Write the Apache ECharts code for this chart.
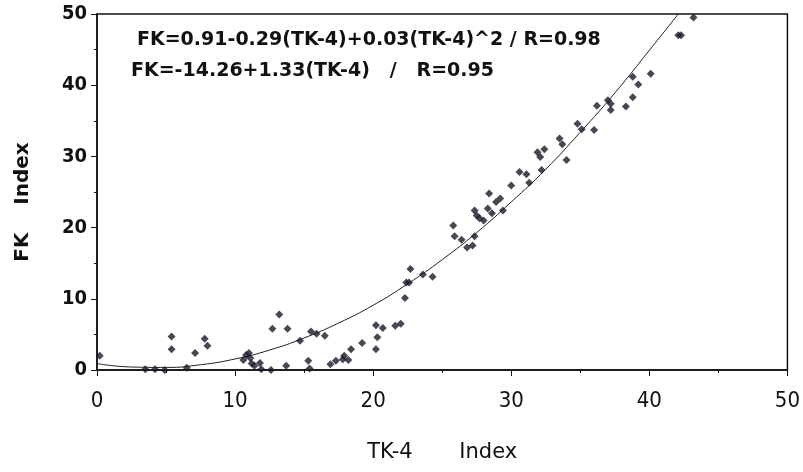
<!DOCTYPE html>
<html>
<head>
<meta charset="utf-8">
<script src="https://cdn.jsdelivr.net/npm/echarts@6/dist/echarts.min.js"></script>
<style>
  html, body { margin: 0; padding: 0; background: #fff; }
  #main { width: 803px; height: 472px; }
</style>
</head>
<body>
<div id="main"></div>
<script>
// measured points (TK-4 index, FK index)
const points = [
  [0.2, 2.0], [3.5, 0.1], [4.2, 0.1], [4.9, 0.0], [5.4, 4.7], [5.4, 2.9], [6.5, 0.3],
  [7.1, 2.4], [7.8, 4.4], [8.0, 3.4],
  [10.6, 1.4], [10.8, 2.1], [11.0, 2.4], [11.1, 1.7], [11.2, 0.9], [11.4, 0.6],
  [11.8, 1.0], [11.9, 0.1], [12.6, 0.0], [12.7, 5.8], [13.2, 7.8], [13.8, 5.8],
  [13.7, 0.6], [14.7, 4.1], [15.3, 1.3], [15.4, 0.2], [15.5, 5.4], [15.9, 5.1],
  [16.5, 4.8], [16.9, 0.8], [17.3, 1.3], [17.8, 1.5], [17.9, 2.0], [18.2, 1.4],
  [18.4, 2.9], [19.2, 3.8], [20.2, 2.9], [20.3, 4.6], [20.2, 6.3], [20.7, 5.9],
  [21.6, 6.2], [22.0, 6.5], [22.3, 10.1], [22.4, 12.3], [22.6, 12.3], [22.7, 14.2],
  [23.6, 13.4], [24.3, 13.1],
  [25.8, 20.3], [25.9, 18.8], [26.4, 18.3], [26.8, 17.2], [27.2, 17.5], [27.35, 18.8],
  [27.35, 22.4], [27.5, 21.7], [27.7, 21.3], [28.0, 21.0], [28.3, 22.7], [28.4, 24.8],
  [28.6, 22.0], [28.9, 23.6], [29.2, 24.1], [29.4, 22.4], [30.0, 25.9], [30.6, 27.8],
  [31.1, 27.5], [31.3, 26.3], [31.9, 30.6], [32.1, 29.9], [32.4, 31.0], [32.2, 28.1],
  [33.5, 32.5], [33.7, 31.7], [34.0, 29.5], [34.8, 34.6], [35.1, 33.8], [36.0, 33.7],
  [36.2, 37.1], [37.0, 37.9], [37.2, 37.4], [37.2, 36.5], [38.3, 37.0], [38.8, 38.3],
  [38.8, 41.2], [39.2, 40.1], [40.1, 41.6], [42.1, 47.0], [42.3, 47.0], [43.2, 49.5]
];

// fitted curve
const curveX = [0, 2.5, 5, 7.5, 10, 12.5, 15, 17.5, 20, 22.5, 25, 27.5, 30, 32.5, 35, 37.5, 40, 42.1];
const curveY = [0.9, 0.42, 0.36, 0.74, 1.55, 2.8, 4.5, 6.6, 9.1, 12.1, 15.5, 19.3, 23.6, 28.2, 33.4, 38.9, 44.9, 50];

const eqQuad = 'FK=0.91-0.29(TK-4)+0.03(TK-4)^2 / R=0.98';
const eqLin = 'FK=-14.26+1.33(TK-4)   /   R=0.95';

const cond = '"DejaVu Sans Condensed", "DejaVu Sans", sans-serif';
const wide = '"DejaVu Sans", sans-serif';

let myChart = echarts.init(document.getElementById('main'));

let option = {
  backgroundColor: '#fff',
  animation: false,
  grid: {
    left: 97, right: 15, top: 14, bottom: 102,
    show: true, borderColor: '#111', borderWidth: 1.5, backgroundColor: 'transparent'
  },
  xAxis: {
    type: 'value', min: 0, max: 50, interval: 10,
    name: 'TK-4       Index', nameLocation: 'middle', nameGap: 72,
    nameTextStyle: { fontFamily: wide, fontSize: 21, color: '#111' },
    axisLine: { lineStyle: { color: '#111', width: 1.5 } },
    axisTick: { length: 6, lineStyle: { color: '#111' } },
    minorTick: { show: true, splitNumber: 2, length: 3, lineStyle: { color: '#111' } },
    axisLabel: { fontFamily: cond, fontSize: 22, color: '#111', margin: 20 },
    splitLine: { show: false }
  },
  yAxis: {
    type: 'value', min: 0, max: 50, interval: 10,
    name: 'FK    Index', nameLocation: 'middle', nameGap: 64, nameRotate: 90,
    nameTextStyle: { fontFamily: wide, fontSize: 20, fontWeight: 'bold', color: '#111', padding: [0, 20, 0, 0] },
    axisLine: { lineStyle: { color: '#111', width: 1.5 } },
    axisTick: { length: 6, lineStyle: { color: '#111' } },
    minorTick: { show: true, splitNumber: 2, length: 3, lineStyle: { color: '#111' } },
    axisLabel: { fontFamily: cond, fontSize: 20, fontWeight: 'bold', color: '#111', margin: 10 },
    splitLine: { show: false }
  },
  graphic: [
    {
      type: 'text', left: 137, top: 31,
      style: { text: eqQuad, font: 'bold 19px ' + wide, fill: '#111' }
    },
    {
      type: 'text', left: 131, top: 62,
      style: { text: eqLin, font: 'bold 19px ' + wide, fill: '#111' }
    }
  ],
  series: [
    {
      type: 'line',
      data: curveX.map((x, i) => [x, curveY[i]]),
      smooth: true,
      showSymbol: false,
      lineStyle: { color: '#222', width: 1 },
      clip: true,
      z: 2
    },
    {
      type: 'scatter',
      data: points,
      symbol: 'diamond',
      symbolSize: 8,
      itemStyle: { color: '#1a1a2a' },
      z: 3
    }
  ]
};

myChart.setOption(option);
</script>
</body>
</html>
